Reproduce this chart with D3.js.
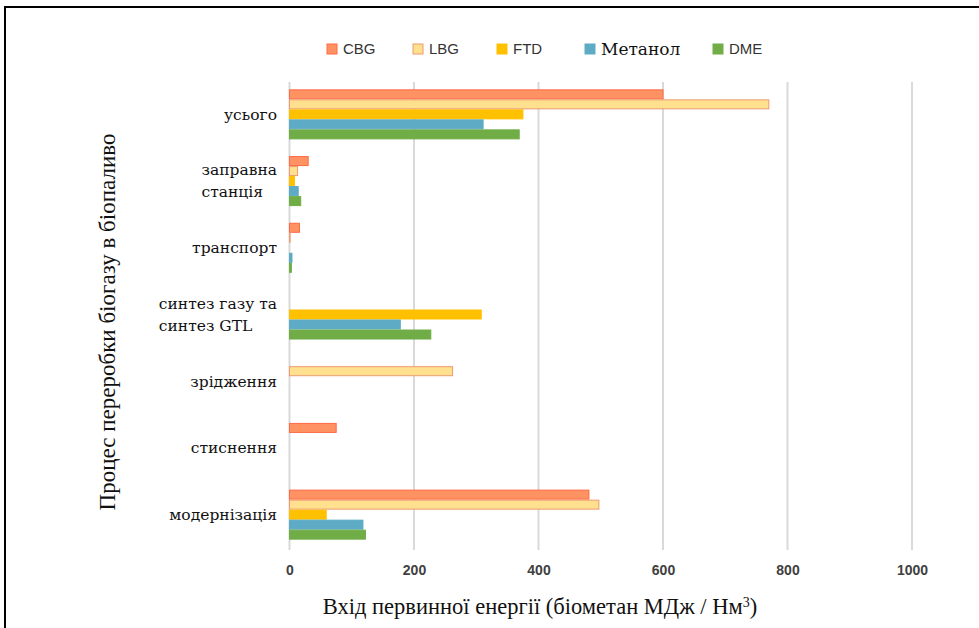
<!DOCTYPE html>
<html>
<head>
<meta charset="utf-8">
<script src="https://cdn.jsdelivr.net/npm/d3@7"></script>
<style>
  html, body { margin: 0; padding: 0; background: #fff; }
  svg { display: block; }
</style>
</head>
<body>
<svg id="chart" width="979" height="628"></svg>
<script>
// Process stages (top to bottom); "\n" breaks a label into lines
const categories = [
  "усього",
  "заправна\nстанція",
  "транспорт",
  "синтез газу та\nсинтез GTL",
  "зрідження",
  "стиснення",
  "модернізація"
];

// Fuel pathways, in bar order within each stage
const seriesNames = ["CBG", "LBG", "FTD", "Метанол", "DME"];

// Primary energy input per stage (biomethane MJ / Nm³)
const cbgValues      = [600, 30, 16, 0, 0, 75, 481];
const lbgValues      = [770, 13, 1, 0, 262, 0, 497];
const ftdValues      = [375, 8, 0, 308, 0, 0, 59];
const methanolValues = [311, 14, 4, 178, 0, 0, 118];
const dmeValues      = [369, 18, 3, 227, 0, 0, 122];

const xTicks = [0, 200, 400, 600, 800, 1000];

const seriesValues = [cbgValues, lbgValues, ftdValues, methanolValues, dmeValues];

const fills   = ["#ff9262", "#ffe08e", "#ffc000", "#5eabc6", "#70ad47"];
const strokes = ["#ff6a45", "#ef9a70", "#ffc000", "#5eabc6", "#70ad47"];

const serifTitle = "'Liberation Serif', 'Times New Roman', serif";
const serifLabel = "'DejaVu Serif', Georgia, serif";
const sans = "'Liberation Sans', Arial, sans-serif";

const svg = d3.select("#chart");

// outer frame (top and left edges visible)
svg.append("line").attr("x1", 5).attr("x2", 979).attr("y1", 7).attr("y2", 7)
  .attr("stroke", "#000").attr("stroke-width", 2);
svg.append("line").attr("x1", 5).attr("x2", 5).attr("y1", 6).attr("y2", 628)
  .attr("stroke", "#000").attr("stroke-width", 2);

const x = d3.scaleLinear().domain([0, 1000]).range([289.5, 912]);
const y = d3.scaleBand().domain(categories).range([81, 548])
  .paddingInner(0.25).paddingOuter(0.125);
const ySub = d3.scaleBand().domain(seriesNames).range([0, y.bandwidth()]);

// vertical gridlines
svg.append("g").selectAll("line").data(xTicks).join("line")
  .attr("x1", d => x(d)).attr("x2", d => x(d))
  .attr("y1", 82).attr("y2", 550)
  .attr("stroke", "#d9d9d9").attr("stroke-width", 2);

// x axis tick labels
const xAxis = d3.axisBottom(x).tickValues(xTicks).tickFormat(d3.format("d"))
  .tickSize(0).tickPadding(0);
const gx = svg.append("g").attr("transform", "translate(0,565)").call(xAxis);
gx.select(".domain").remove();
gx.selectAll("text")
  .attr("dy", "0.71em")
  .style("font-family", sans)
  .style("font-weight", "bold")
  .style("font-size", "14px")
  .attr("fill", "#404040");

// bars
const rows = [];
categories.forEach((c, i) => {
  seriesNames.forEach((s, j) => {
    rows.push({ cat: c, series: s, j, value: seriesValues[j][i] });
  });
});

svg.append("g").selectAll("rect").data(rows.filter(d => d.value > 0)).join("rect")
  .attr("x", x(0))
  .attr("y", d => y(d.cat) + ySub(d.series) + 0.5)
  .attr("width", d => x(d.value) - x(0))
  .attr("height", ySub.bandwidth() - 1)
  .attr("fill", d => fills[d.j])
  .attr("stroke", d => strokes[d.j])
  .attr("stroke-width", 1);

// category labels: block right-aligned to the axis, lines left-aligned
const yl = svg.append("g");
categories.forEach(c => {
  const lines = c.split("\n");
  const cy = y(c) + y.bandwidth() / 2;
  const lh = 22;
  const t = yl.append("text")
    .attr("font-family", serifLabel)
    .attr("font-size", "15.5px")
    .attr("fill", "#111");
  lines.forEach((ln, k) => {
    t.append("tspan").attr("x", 0)
      .attr("y", cy + (k - (lines.length - 1) / 2) * lh)
      .attr("dy", "0.35em")
      .text(ln);
  });
  const w = t.node().getBBox().width;
  t.attr("transform", `translate(${277 - w},0)`);
});

// legend
const legendX = [327, 413, 497, 585, 713];
const lg = svg.append("g");
seriesNames.forEach((s, j) => {
  lg.append("rect").attr("x", legendX[j]).attr("y", 44)
    .attr("width", 10).attr("height", 10)
    .attr("fill", fills[j]).attr("stroke", strokes[j]).attr("stroke-width", 1);
  const serif = s === "Метанол";
  lg.append("text").attr("x", legendX[j] + 16).attr("y", 49).attr("dy", "0.35em")
    .attr("font-family", serif ? serifLabel : sans)
    .attr("font-size", serif ? "17px" : "15px")
    .attr("fill", serif ? "#111" : "#333")
    .text(s);
});

// axis titles
const xt = svg.append("text")
  .attr("x", 540).attr("y", 614)
  .attr("text-anchor", "middle")
  .attr("font-family", serifTitle)
  .attr("font-size", "22.5px")
  .attr("fill", "#111");
xt.append("tspan").text("Вхід первинної енергії (біометан МДж / Нм");
xt.append("tspan").attr("baseline-shift", "super").attr("font-size", "14px").text("3");
xt.append("tspan").text(")");

svg.append("text")
  .attr("transform", "translate(115,322) rotate(-90)")
  .attr("text-anchor", "middle")
  .attr("font-family", serifTitle)
  .attr("font-size", "23px")
  .attr("fill", "#111")
  .text("Процес переробки біогазу в біопаливо");
</script>
</body>
</html>
